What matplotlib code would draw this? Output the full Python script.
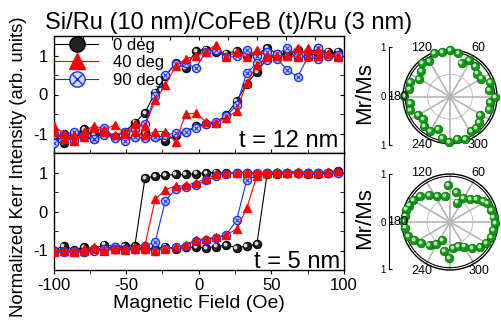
import numpy as np
import matplotlib.pyplot as plt
from matplotlib.ticker import MultipleLocator
from matplotlib.lines import Line2D
from matplotlib.legend_handler import HandlerTuple
from matplotlib.transforms import offset_copy

plt.rcParams['font.family'] = ['Liberation Sans', 'DejaVu Sans']
plt.rcParams['axes.unicode_minus'] = False

# field grid (Oe), same for every branch
field = [-100, -93, -86, -79, -72, -65, -58, -51, -44, -37, -30, -23, -16, -9, -2,
         5, 12, 19, 26, 33, 40, 47, 54, 61, 68, 75, 82, 89, 96]

# t = 12 nm, values listed from -100 to +96 for each branch
t12_0_down = [-1.15, -1.0, -1.1, -0.92, -1.05, -0.98, -1.1, -0.95, -0.72, -0.47, 0.05, 0.47, 0.8, 0.68, 1.12,
              1.15, 1.1, 1.05, 1.12, 1.0, 1.02, 1.2, 1.05, 0.98, 1.15, 1.05, 1.2, 1.05, 1.1]
t12_0_up = [-1.2, -1.25, -1.05, -0.88, -1.1, -0.98, -1.08, -1.12, -1.1, -0.98, -1.1, -1.18, -1.05, -0.95, -0.82,
            -0.75, -0.72, -0.52, -0.17, 0.28, 0.58, 0.92, 0.98, 1.1, 0.95, 1.0, 1.05, 1.1, 1.0]
t12_40_down = [-0.8, -1.0, -1.2, -0.95, -0.8, -0.9, -0.78, -1.0, -0.75, -0.8, -0.15, 0.25, 0.72, 0.92, 0.98,
               1.1, 1.28, 0.95, 1.1, 0.95, 1.15, 1.0, 0.98, 1.0, 1.2, 0.98, 1.15, 1.05, 1.0]
t12_40_up = [-0.95, -1.15, -1.05, -1.1, -0.85, -0.95, -1.05, -0.95, -0.95, -1.05, -0.95, -0.95, -1.22, -0.5, -0.48,
             -0.7, -0.72, -0.6, -0.42, 0.3, 0.75, 0.95, 1.0, 1.0, 0.95, 1.2, 1.0, 1.05, 0.95]
t12_90_down = [-1.25, -1.05, -0.95, -1.1, -1.15, -0.85, -1.1, -0.95, -0.88, -0.75, -0.05, 0.5, 0.78, 0.8, 0.68,
               1.1, 1.15, 0.95, 0.98, 1.15, 1.0, 1.1, 0.9, 0.64, 0.45, 0.95, 0.92, 1.0, 0.95]
t12_90_up = [-1.0, -1.1, -1.2, -1.05, -1.15, -1.05, -1.12, -1.18, -1.1, -1.12, -1.1, -1.05, -0.98, -0.95, -0.85,
             -0.75, -0.7, -0.55, -0.28, 0.55, 0.8, 0.88, 1.05, 1.18, 1.0, 0.95, 1.2, 0.98, 1.02]

# t = 5 nm
t5_0_down = [-1.0, -0.88, -0.98, -0.92, -0.95, -0.85, -0.9, -0.88, -0.88, 0.86, 0.9, 0.93, 0.95, 0.95, 0.97,
             0.99, 1.0, 0.98, 1.0, 1.0, 0.97, 0.98, 0.97, 1.0, 1.0, 0.98, 0.95, 1.0, 1.02]
t5_0_up = [-1.0, -0.98, -1.02, -0.95, -0.98, -0.95, -0.97, -0.95, -0.97, -0.95, -0.97, -0.9, -0.97, -0.92, -0.92,
           -0.93, -0.9, -0.86, -0.93, -0.89, -0.84, 0.95, 0.98, 1.0, 1.0, 0.97, 1.0, 0.98, 1.04]
t5_40_down = [-1.02, -1.0, -1.05, -0.95, -0.92, -0.98, -0.95, -0.95, -0.9, -0.85, 0.31, 0.56, 0.65, 0.67, 0.74,
              0.84, 0.95, 0.98, 1.0, 1.0, 1.0, 1.0, 1.02, 1.0, 1.02, 1.0, 1.0, 1.02, 1.05]
t5_40_up = [-1.05, -1.0, -1.0, -1.0, -0.95, -1.0, -0.97, -0.98, -0.97, -0.97, -1.0, -0.95, -0.92, -0.85, -0.72,
            -0.7, -0.66, -0.6, -0.45, 0.08, 0.91, 0.98, 1.0, 1.0, 1.02, 1.0, 1.0, 1.02, 1.03]
t5_90_down = [-1.05, -1.02, -1.0, -1.03, -0.98, -0.95, -0.9, -0.95, -0.97, -0.88, -0.78, 0.27, 0.57, 0.63, 0.67,
              0.8, 0.9, 0.97, 1.0, 1.0, 0.98, 1.0, 1.0, 1.0, 1.0, 1.0, 1.0, 1.0, 1.0]
t5_90_up = [-1.0, -1.05, -1.0, -1.03, -1.0, -0.97, -0.95, -0.98, -0.97, -0.97, -1.0, -0.95, -0.92, -0.88, -0.75,
            -0.72, -0.68, -0.59, -0.23, 0.8, 0.93, 0.98, 1.0, 1.0, 1.0, 1.0, 1.0, 1.0, 1.0]

# angular dependence of Mr/Ms (deg, normalized)
ang12 = [90, 80, 100, 110, 120, 130, 139, 150, 160, 170, 179, 189, 199, 210, 220, 229, 240, 249,
         259, 269, 280, 290, 301, 310, 319, 329, 342, 352, 359, 10, 20, 30, 41, 51, 62, 71]
mr12 = [1.05, 0.98, 1.01, 1.04, 0.93, 0.97, 0.87, 0.79, 0.95, 0.93, 1.02, 0.9, 0.94, 0.82, 0.79, 0.87,
        0.88, 0.77, 0.94, 1.02, 0.96, 1.0, 0.9, 0.92, 0.85, 0.78, 0.92, 0.91, 1.0, 0.89, 0.95, 0.81,
        0.79, 0.88, 0.92, 0.79]
ang5 = [93, 79, 101, 116, 128, 139, 149, 158, 164, 172, 179, 187, 198, 207, 216, 228, 238, 245, 258,
        269, 277, 289, 300, 311, 320, 330, 340, 349, 359, 7, 16, 27, 32, 41, 49, 61, 71]
mr5 = [0.81, 0.67, 0.58, 0.64, 0.76, 0.88, 0.95, 0.96, 0.99, 1.0, 1.03, 1.0, 0.97, 0.89, 0.78, 0.67,
       0.58, 0.43, 0.65, 0.78, 0.57, 0.56, 0.62, 0.75, 0.85, 0.92, 0.95, 0.96, 0.98, 0.96, 0.94, 0.92,
       0.86, 0.77, 0.66, 0.59, 0.45]

fig = plt.figure(figsize=(5.01, 3.24), dpi=100)
W, Hp = 501.0, 324.0

ax1 = fig.add_axes([53.5 / W, 1 - 153 / Hp, 290.5 / W, 117 / Hp])
ax2 = fig.add_axes([53.5 / W, 1 - 270 / Hp, 290.5 / W, 117 / Hp])

MS = 5.8


def draw_loop(ax, down, up, kind):
    x = field[::-1] + field
    y = down[::-1] + up
    if kind == 0:
        ax.plot(x, y, '-', color='black', lw=0.8, marker='o', ms=MS, mfc='#222222', mec='black', zorder=3)
        hl = offset_copy(ax.transData, fig=fig, x=-1.2, y=1.2, units='dots')
        ax.plot(x, y, 'o', ls='none', ms=1.8, color='#d8d8d8', transform=hl, zorder=3.1)
    elif kind == 40:
        ax.plot(x, y, '-', color='red', lw=0.8, marker='^', ms=MS, mfc='red', mec='red', zorder=5)
    else:
        ax.plot(x, y, '-', color='#1030ff', lw=0.8, marker='o', ms=MS, mfc='#d8ddff', mec='#1030ff', zorder=4)
        ax.plot(x, y, 'x', ls='none', ms=MS * 0.62, mew=0.8, color='#1030ff', zorder=4.1)


draw_loop(ax1, t12_0_down, t12_0_up, 0)
draw_loop(ax1, t12_90_down, t12_90_up, 90)
draw_loop(ax1, t12_40_down, t12_40_up, 40)
draw_loop(ax2, t5_0_down, t5_0_up, 0)
draw_loop(ax2, t5_90_down, t5_90_up, 90)
draw_loop(ax2, t5_40_down, t5_40_up, 40)

for ax in (ax1, ax2):
    ax.set_xlim(-100, 100)
    ax.set_ylim(-1.5, 1.5)
    ax.yaxis.set_major_locator(MultipleLocator(1))
    ax.yaxis.set_minor_locator(MultipleLocator(0.5))
    ax.tick_params(axis='y', which='both', direction='in', left=True, right=True, length=3, labelsize=12, pad=4)
    for s in ax.spines.values():
        s.set_linewidth(1.0)

ax1.xaxis.set_major_locator(MultipleLocator(20))
ax1.tick_params(axis='x', direction='in', top=True, bottom=False, labelbottom=False, length=3)
ax2.xaxis.set_major_locator(MultipleLocator(50))
ax2.xaxis.set_minor_locator(MultipleLocator(25))
ax2.tick_params(axis='x', which='both', direction='out', top=True, bottom=True, length=3, labelsize=12, pad=3)
ax2.set_xlabel('Magnetic Field (Oe)', fontsize=14, labelpad=1)

ax1.text(0.979, 0.054, 't = 12 nm', transform=ax1.transAxes, ha='right', va='baseline', fontsize=17)
ax2.text(0.986, 0.02, 't = 5 nm', transform=ax2.transAxes, ha='right', va='baseline', fontsize=17)

h0 = Line2D([], [], color='black', lw=0.8, marker='o', ms=11, mfc='#222222', mec='black')
h1 = Line2D([], [], color='red', lw=0.8, marker='^', ms=11, mfc='red', mec='red')
h2a = Line2D([], [], color='#1030ff', lw=0.8, marker='o', ms=11, mfc='#d8ddff', mec='#1030ff')
h2b = Line2D([], [], color='#1030ff', ls='none', marker='x', ms=7, mew=1.0)
ax1.legend([h0, h1, (h2a, h2b)], ['0 deg', '40 deg', '90 deg'],
           handler_map={tuple: HandlerTuple(ndivide=1)},
           loc='upper left', bbox_to_anchor=(0.005, 0.985), frameon=False, fontsize=12,
           handlelength=2.6, handletextpad=0.9, labelspacing=0.15, borderpad=0, borderaxespad=0)

fig.text(228.5 / W, 1 - 29 / Hp, 'Si/Ru (10 nm)/CoFeB (t)/Ru (3 nm)', ha='center', va='baseline', fontsize=17)
fig.text(19 / W, 1 - 167 / Hp, 'Normalized Kerr Intensity (arb. units)', rotation=90,
         ha='center', va='center', fontsize=13.3)

# polar panels with their Mr/Ms scale
polar_specs = [
    (ang12, mr12, (450, 96.7), 47, (46.7, 145)),
    (ang5, mr5, (450, 222), 48, (174, 269)),
]
thetas = list(range(0, 360, 30))
tlabels = ['', '', '60', '', '120', '', '', '', '240', '', '300', '']
for ang, mr, (cx, cy), R, (ytop, ybot) in polar_specs:
    pax = fig.add_axes([(cx - R) / W, 1 - (cy + R) / Hp, 2 * R / W, 2 * R / Hp], projection='polar')
    pax.set_rlim(0, 1.05)
    pax.set_thetagrids(thetas, tlabels, fontsize=9)
    pax.set_rgrids([0.5, 1.0], labels=['', ''])
    pax.tick_params(axis='x', pad=-4)
    for g in pax.xaxis.get_gridlines():
        g.set_color('#b5b5b5')
        g.set_linewidth(1.2)
        g.set_linestyle('-')
    rg = pax.yaxis.get_gridlines()
    rg[0].set_color('#b5b5b5')
    rg[0].set_linewidth(0.6)
    rg[0].set_linestyle('-')
    rg[1].set_color('black')
    rg[1].set_linewidth(0.8)
    rg[1].set_linestyle('-')
    pax.spines['polar'].set_linewidth(1.0)
    pax.set_axisbelow(True)
    th = np.deg2rad(ang)
    pax.plot(th, mr, 'o', ls='none', ms=6.2, mfc='#129a12', mec='#0a6a0a', mew=0.5, zorder=3, clip_on=False)
    hl = offset_copy(pax.transData, fig=fig, x=-1.1, y=1.1, units='dots')
    pax.plot(th, mr, 'o', ls='none', ms=1.8, color='#b8e8b8', transform=hl, zorder=3.1, clip_on=False)
    # 180 deg label sits just right of the Mr/Ms scale
    fig.text(387.5 / W, 1 - cy / Hp, '180', ha='left', va='center', fontsize=9)

    sax = fig.add_axes([389 / W, 1 - ybot / Hp, 0.0001, (ybot - ytop) / Hp])
    sax.set_ylim(-1, 1)
    sax.set_yticks([-1, 0, 1])
    sax.set_yticklabels(['1', '0', '1'])
    sax.set_xticks([])
    for k in ('top', 'bottom', 'right'):
        sax.spines[k].set_visible(False)
    sax.spines['left'].set_linewidth(0.8)
    sax.tick_params(axis='y', direction='in', length=2, labelsize=7, pad=2.5)
    sax.patch.set_visible(False)
    fig.text(365 / W, 1 - (ytop + ybot) / 2 / Hp + 0.01, 'Mr/Ms', rotation=90, ha='center', va='center', fontsize=16)

fig.savefig('out.png', dpi=100)
